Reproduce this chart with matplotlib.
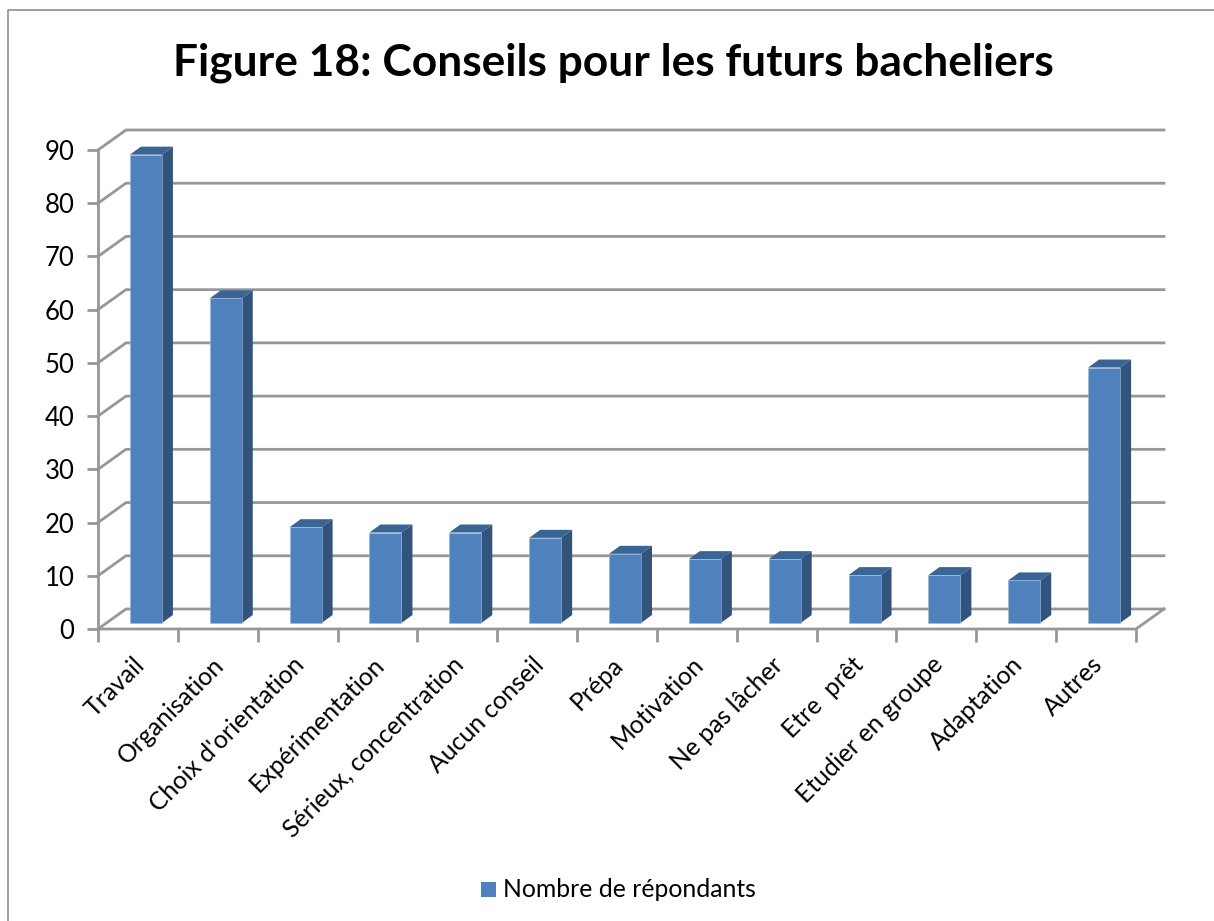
import matplotlib
matplotlib.use("Agg")
import matplotlib.pyplot as plt
from matplotlib.patches import Polygon, Rectangle
from matplotlib.lines import Line2D

categories = ["Travail", "Organisation", "Choix d'orientation", "Expérimentation",
              "Sérieux, concentration", "Aucun conseil", "Prépa", "Motivation",
              "Ne pas lâcher", "Etre  prêt", "Etudier en groupe", "Adaptation", "Autres"]
values = [88, 61, 18, 17, 17, 16, 13, 12, 12, 9, 9, 8, 48]
y_ticks = [0, 10, 20, 30, 40, 50, 60, 70, 80, 90]
series_name = "Nombre de répondants"
title = "Figure 18: Conseils pour les futurs bacheliers"

W, H = 1214, 921
FONT = ["Lato", "DejaVu Sans"]
plt.rcParams["font.family"] = FONT
fig = plt.figure(figsize=(W / 100, H / 100), dpi=100, facecolor="white")

L, R, T, B = 98, 1136, 150, 629
ax = fig.add_axes([L / W, 1 - B / H, (R - L) / W, (B - T) / H])
ax.set_xlim(-0.5, 12.5)
ax.set_ylim(0, 90)
ax.patch.set_visible(False)
for s in ax.spines.values():
    s.set_visible(False)

px = 13 / (R - L)      # data units per pixel, horizontally
py = 90 / (B - T)      # data units per pixel, vertically
GRID = "#979797"
wall_dx, wall_dy = 28 * px, 20 * py
bar_dx, bar_dy = 11 * px, 8 * py
lift = 6 * py
shift = 8 * px
width = 32 * px

x0, x1 = -0.5, 12.5
# Gridlines on the side wall and the back wall
for t in y_ticks:
    ax.plot([x0, x0 + wall_dx, x1 + wall_dx], [t, t + wall_dy, t + wall_dy],
            color=GRID, lw=2, clip_on=False, zorder=1, solid_joinstyle="miter")
# Floor: front edge and right edge; y axis
ax.plot([x0, x1, x1 + wall_dx], [0, 0, wall_dy], color=GRID, lw=2, clip_on=False, zorder=1)
ax.plot([x0, x0], [0, 90], color=GRID, lw=2, clip_on=False, zorder=1)

# Ticks
ax.set_yticks(y_ticks)
ax.set_xticks([i - 0.5 for i in range(14)])
ax.set_xticklabels([])
ax.tick_params(axis="y", length=8, width=2, color=GRID, labelsize=18.5, pad=9, labelcolor="black")
ax.tick_params(axis="x", length=9, width=2, color=GRID)

# Bars
FRONT, SIDE, TOP = "#4F81BD", "#32547C", "#3A6496"
for i, v in enumerate(values):
    xl = i + shift - width / 2
    xr = xl + width
    yb, yt = lift, v + lift
    ax.add_patch(Polygon([(xr, yb), (xr + bar_dx, yb + bar_dy), (xr + bar_dx, yt + bar_dy), (xr, yt)],
                         closed=True, fc=SIDE, ec="none", zorder=3, clip_on=False))
    ax.add_patch(Polygon([(xl, yt), (xl + bar_dx, yt + bar_dy), (xr + bar_dx, yt + bar_dy), (xr, yt)],
                         closed=True, fc=TOP, ec="none", zorder=3, clip_on=False))
bars = ax.bar([i + shift for i in range(len(values))], values, width=width, bottom=lift,
              color=FRONT, edgecolor="#9DB8D9", linewidth=0.4, zorder=4, clip_on=False)

# Category labels, rotated
for i, c in enumerate(categories):
    ax.annotate(c, xy=(i, 0), xycoords="data", xytext=(2, -23), textcoords="offset points",
                rotation=45, rotation_mode="anchor", ha="right", va="center",
                fontsize=17.8, color="black", annotation_clip=False)

# Title
fig.text(613 / W, 1 - 63 / H, title, ha="center", va="center", fontsize=31.9, fontweight="bold", color="black")

# Legend
fig.patches.append(Rectangle((481 / W, 1 - 897 / H), 15 / W, 15 / H, transform=fig.transFigure, fc=FRONT, ec="none"))
fig.text(503 / W, 1 - 889 / H, series_name, ha="left", va="center", fontsize=17.8, color="black")

# Chart frame
fig.add_artist(Line2D([8 / W, 8 / W, 1], [0, 1 - 10 / H, 1 - 10 / H], transform=fig.transFigure,
                      color="#8E8E8E", lw=1.2))

fig.savefig("out.png", dpi=100)
